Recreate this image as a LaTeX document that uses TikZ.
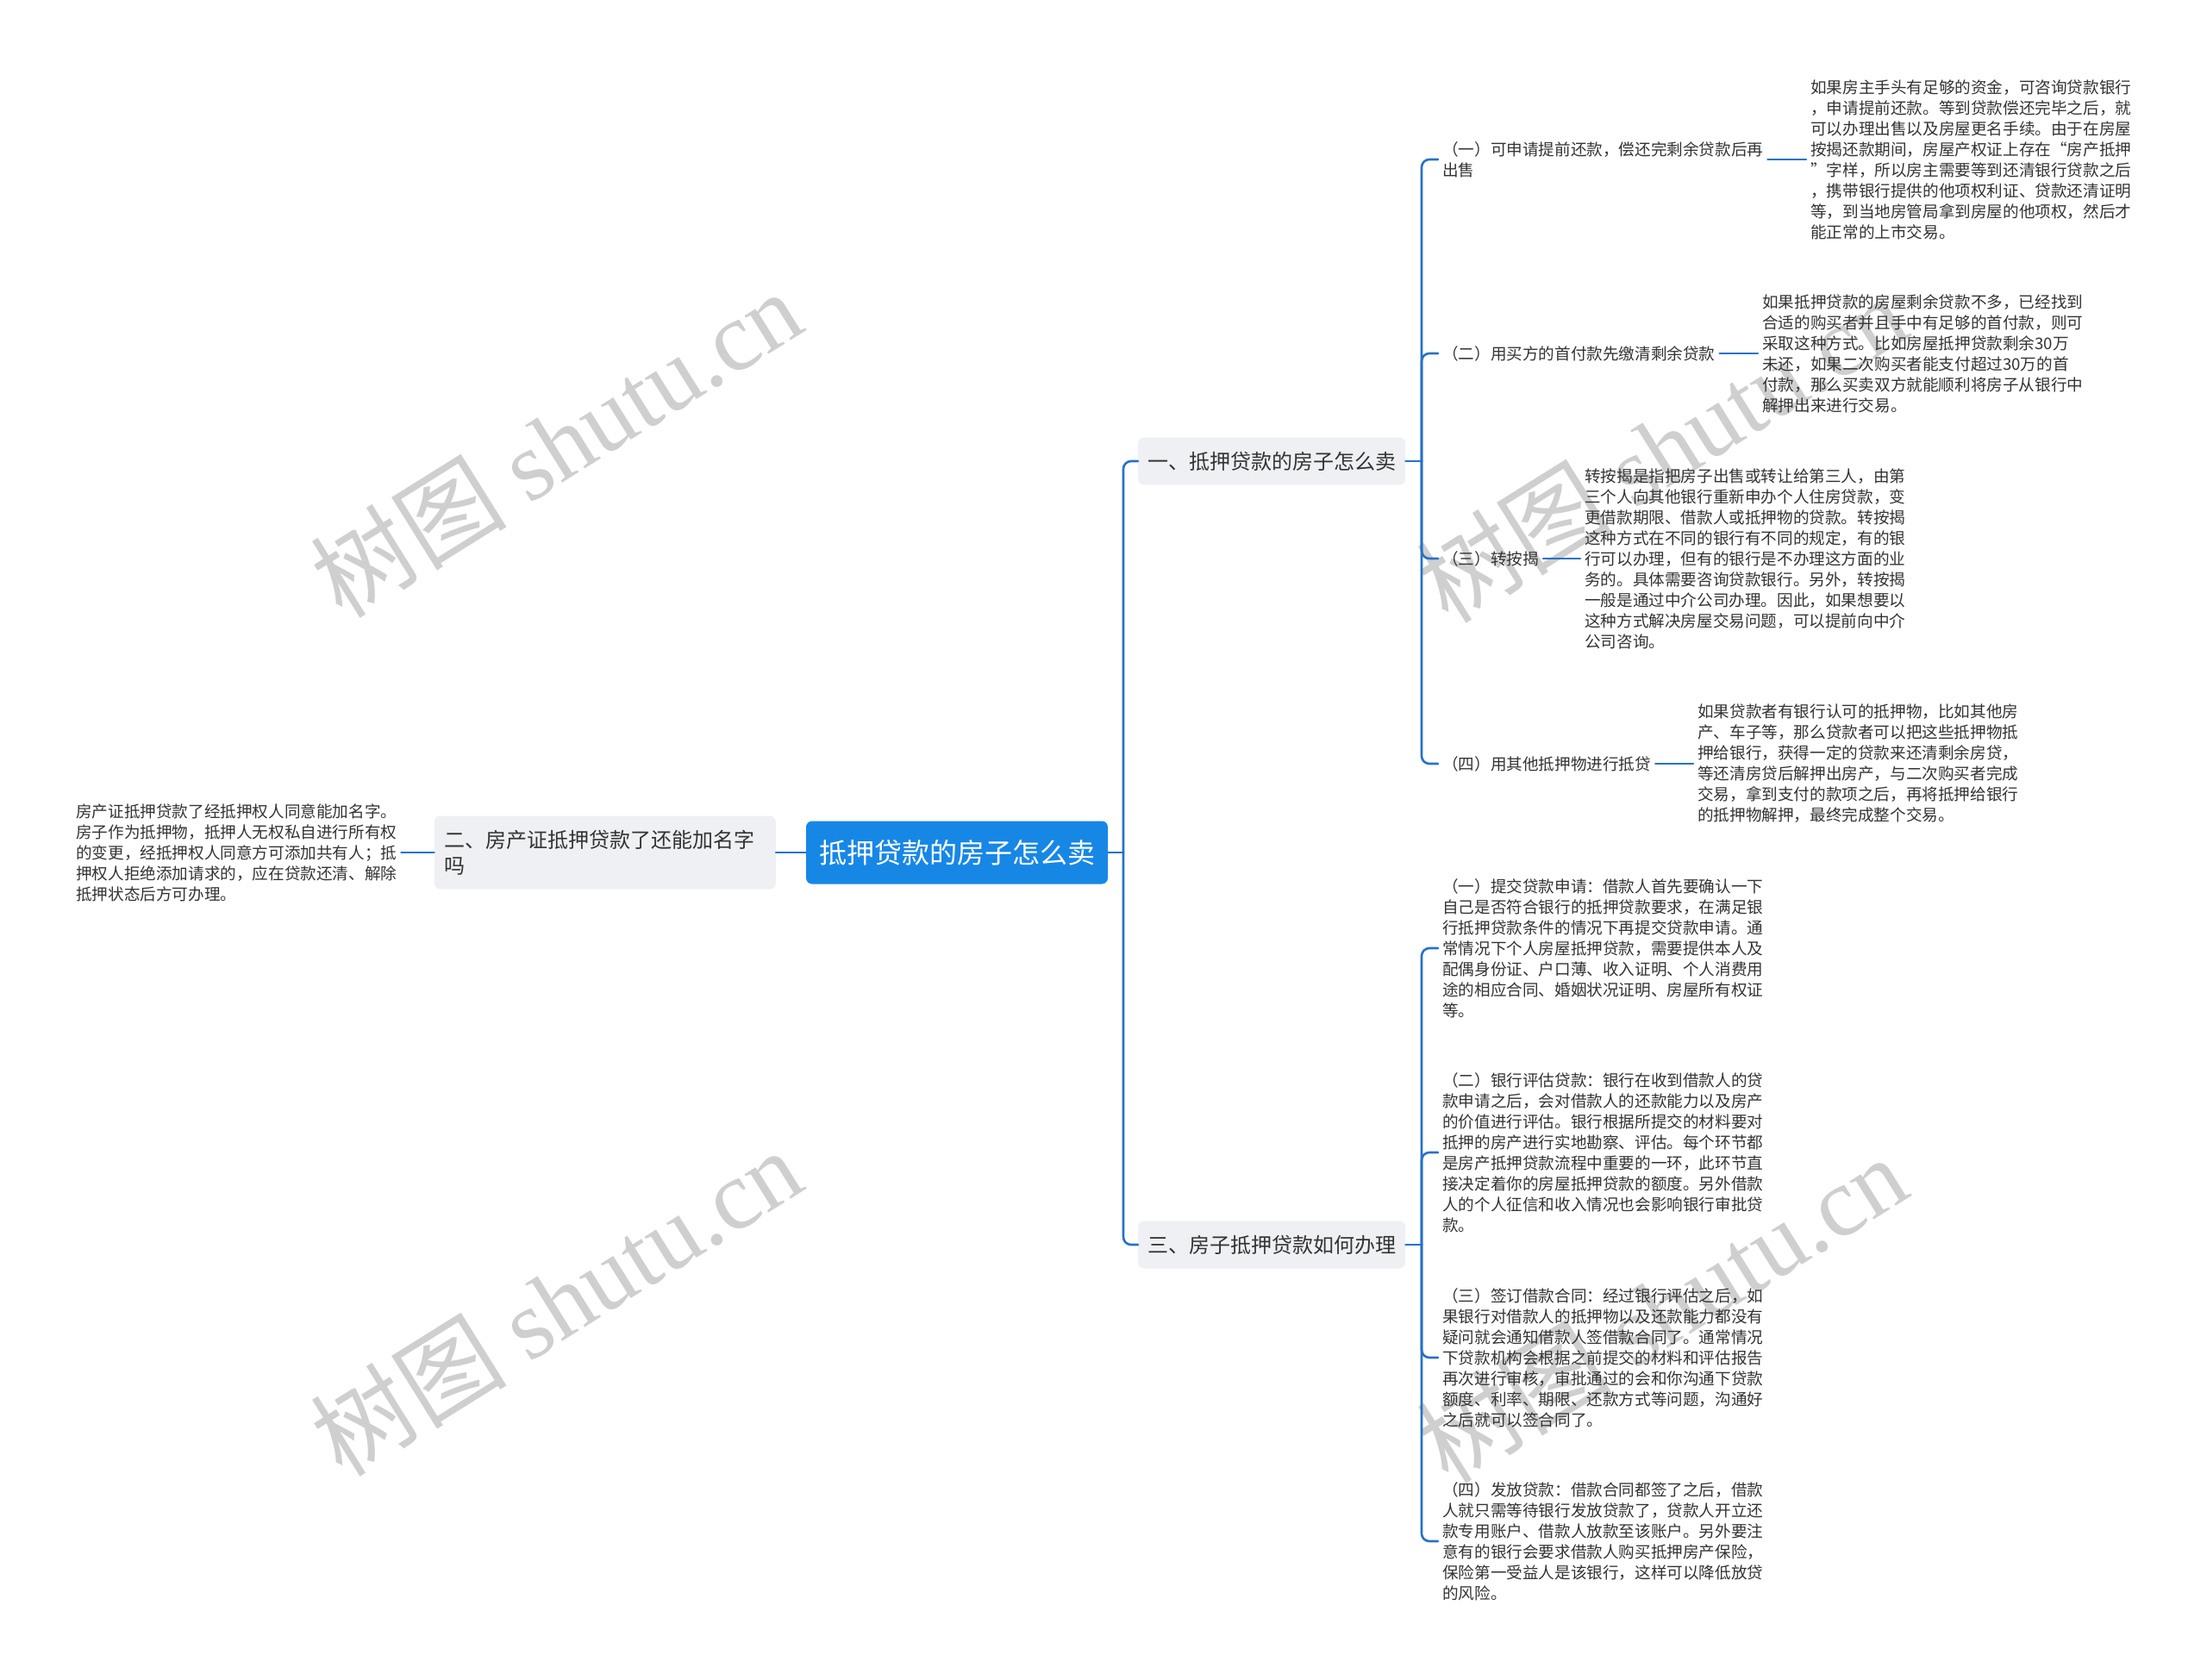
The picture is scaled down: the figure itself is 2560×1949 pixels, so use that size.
\documentclass[tikz,border=0pt]{standalone}
\usepackage{fontspec}
\setmainfont{Noto Sans CJK SC}
\newfontfamily\wmserif{Liberation Serif}
\definecolor{mainblue}{HTML}{1787E6}
\definecolor{linkblue}{HTML}{2672C8}
\definecolor{boxgray}{HTML}{EEF0F3}
\definecolor{txt}{HTML}{333333}
\definecolor{wm}{HTML}{CFCFCF}
\begin{document}
\begin{tikzpicture}[x=1pt,y=-1pt,
  conn/.style={draw=linkblue,line width=2.6pt,rounded corners=9pt,line cap=round},
  rootbox/.style={fill=mainblue,rounded corners=7pt,text=white,font=\fontsize{32}{38}\selectfont,minimum width=350pt,minimum height=73pt,inner sep=0pt},
  branchbox/.style={fill=boxgray,rounded corners=7pt,text=txt,font=\fontsize{24}{30}\selectfont,inner xsep=11pt,inner ysep=0pt,minimum height=55pt,align=left},
  leaf/.style={text=txt,font=\fontsize{18.6}{24}\selectfont,align=left,inner xsep=5pt,inner ysep=0pt,anchor=west},
  wmark/.style={text=wm,rotate=32,font=\fontsize{114}{114}\selectfont}
]
\useasboundingbox[fill=white] (0,0) rectangle (2560,1949);

% watermarks
\node[wmark] (w1) at (645,514) {树图 {\wmserif shutu.cn}};
\node[wmark] (w2) at (1927,520) {树图 {\wmserif shutu.cn}};
\node[wmark] (w3) at (645,1510) {树图 {\wmserif shutu.cn}};
\node[wmark] (w4) at (1927,1518) {树图 {\wmserif shutu.cn}};

% root and branches
\node[rootbox] (root) at (1110,989) {抵押贷款的房子怎么卖};
\node[branchbox,anchor=west,minimum width=310pt] (b1) at (1320,535) {一、抵押贷款的房子怎么卖};
\node[branchbox,anchor=west,minimum width=310pt] (b3) at (1320,1444) {三、房子抵押贷款如何办理};
\node[branchbox,anchor=east,text width=372pt,inner xsep=12pt,minimum height=85pt] (b2) at (900,989) {二、房产证抵押贷款了还能加名字\\吗};

% left leaf
\node[leaf] (l2) at (83,989) {房产证抵押贷款了经抵押权人同意能加名字。\\房子作为抵押物，抵押人无权私自进行所有权\\的变更，经抵押权人同意方可添加共有人；抵\\押权人拒绝添加请求的，应在贷款还清、解除\\抵押状态后方可办理。};

% branch 1 children
\node[leaf] (s11) at (1668,185) {（一）可申请提前还款，偿还完剩余贷款后再\\出售};
\node[leaf] (s12) at (1668,410) {（二）用买方的首付款先缴清剩余贷款};
\node[leaf] (s13) at (1668,648) {（三）转按揭};
\node[leaf] (s14) at (1668,886) {（四）用其他抵押物进行抵贷};

\node[leaf] (l11) at (2095,185) {如果房主手头有足够的资金，可咨询贷款银行\\，申请提前还款。等到贷款偿还完毕之后，就\\可以办理出售以及房屋更名手续。由于在房屋\\按揭还款期间，房屋产权证上存在“房产抵押\\”字样，所以房主需要等到还清银行贷款之后\\，携带银行提供的他项权利证、贷款还清证明\\等，到当地房管局拿到房屋的他项权，然后才\\能正常的上市交易。};
\node[leaf] (l12) at (2039,410) {如果抵押贷款的房屋剩余贷款不多，已经找到\\合适的购买者并且手中有足够的首付款，则可\\采取这种方式。比如房屋抵押贷款剩余30万\\未还，如果二次购买者能支付超过30万的首\\付款，那么买卖双方就能顺利将房子从银行中\\解押出来进行交易。};
\node[leaf] (l13) at (1833,648) {转按揭是指把房子出售或转让给第三人，由第\\三个人向其他银行重新申办个人住房贷款，变\\更借款期限、借款人或抵押物的贷款。转按揭\\这种方式在不同的银行有不同的规定，有的银\\行可以办理，但有的银行是不办理这方面的业\\务的。具体需要咨询贷款银行。另外，转按揭\\一般是通过中介公司办理。因此，如果想要以\\这种方式解决房屋交易问题，可以提前向中介\\公司咨询。};
\node[leaf] (l14) at (1964,886) {如果贷款者有银行认可的抵押物，比如其他房\\产、车子等，那么贷款者可以把这些抵押物抵\\押给银行，获得一定的贷款来还清剩余房贷，\\等还清房贷后解押出房产，与二次购买者完成\\交易，拿到支付的款项之后，再将抵押给银行\\的抵押物解押，最终完成整个交易。};

% branch 3 children
\node[leaf] (s31) at (1668,1100) {（一）提交贷款申请：借款人首先要确认一下\\自己是否符合银行的抵押贷款要求，在满足银\\行抵押贷款条件的情况下再提交贷款申请。通\\常情况下个人房屋抵押贷款，需要提供本人及\\配偶身份证、户口薄、收入证明、个人消费用\\途的相应合同、婚姻状况证明、房屋所有权证\\等。};
\node[leaf] (s32) at (1668,1337) {（二）银行评估贷款：银行在收到借款人的贷\\款申请之后，会对借款人的还款能力以及房产\\的价值进行评估。银行根据所提交的材料要对\\抵押的房产进行实地勘察、评估。每个环节都\\是房产抵押贷款流程中重要的一环，此环节直\\接决定着你的房屋抵押贷款的额度。另外借款\\人的个人征信和收入情况也会影响银行审批贷\\款。};
\node[leaf] (s33) at (1668,1575) {（三）签订借款合同：经过银行评估之后，如\\果银行对借款人的抵押物以及还款能力都没有\\疑问就会通知借款人签借款合同了。通常情况\\下贷款机构会根据之前提交的材料和评估报告\\再次进行审核，审批通过的会和你沟通下贷款\\额度、利率、期限、还款方式等问题，沟通好\\之后就可以签合同了。};
\node[leaf] (s34) at (1668,1788) {（四）发放贷款：借款合同都签了之后，借款\\人就只需等待银行发放贷款了，贷款人开立还\\款专用账户、借款人放款至该账户。另外要注\\意有的银行会要求借款人购买抵押房产保险，\\保险第一受益人是该银行，这样可以降低放贷\\的风险。};

% connectors
\coordinate (j0) at (1303,989);
\coordinate (j1) at (1649,535);
\coordinate (j3) at (1649,1444);
\draw[conn] (root.east) -- (j0);
\draw[conn] (j0) |- (b1.west);
\draw[conn] (j0) |- (b3.west);
\draw[conn] (b2.east) -- (root.west);
\draw[conn] (l2.east) -- (b2.west);
\draw[conn] (b1.east) -- (j1);
\draw[conn] (b3.east) -- (j3);
\foreach \c in {s11,s12,s13,s14} \draw[conn] (j1) |- (\c.west);
\foreach \c in {s31,s32,s33,s34} \draw[conn] (j3) |- (\c.west);
\draw[conn] (s11.east) -- (l11.west);
\draw[conn] (s12.east) -- (l12.west);
\draw[conn] (s13.east) -- (l13.west);
\draw[conn] (s14.east) -- (l14.west);
\end{tikzpicture}
\end{document}
